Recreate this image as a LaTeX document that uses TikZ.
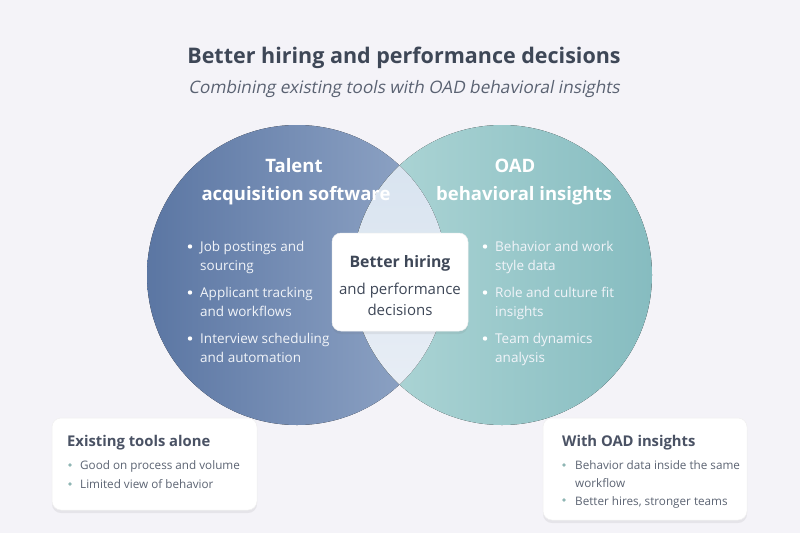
\documentclass[tikz,border=0pt]{standalone}
\usepackage{fontspec}
\setmainfont{Open Sans}
\newfontfamily\oblfont[FakeSlant=0.2]{Open Sans}
\usetikzlibrary{shadows}
\definecolor{bgc}{HTML}{F4F3F8}
\definecolor{lcA}{HTML}{5B76A3}
\definecolor{lcB}{HTML}{93A8C8}
\definecolor{rcA}{HTML}{B0D7D7}
\definecolor{rcB}{HTML}{86BCC0}
\definecolor{lensA}{HTML}{D6E2EF}
\definecolor{lensB}{HTML}{EAEFF6}
\definecolor{titc}{HTML}{3E4757}
\definecolor{subc}{HTML}{5A6272}
\definecolor{boxt}{HTML}{4A5264}
\definecolor{boxb}{HTML}{5C6473}
\definecolor{dotc}{HTML}{8FB6B4}
\definecolor{wtxt}{HTML}{F1F4F9}
\tikzset{
  cardbox/.style={fill=white, rounded corners=9pt, draw=black!6, line width=0.5pt,
    drop shadow={shadow xshift=0pt, shadow yshift=-3pt, opacity=0.10, fill=black!60}},
  ctitle/.style={anchor=base, text=white, font=\fontsize{18.5}{20}\selectfont\bfseries},
  cbul/.style={anchor=base west, inner sep=0pt, text=wtxt, font=\fontsize{13.5}{15}\selectfont},
  btitle/.style={anchor=base west, inner sep=0pt, text=boxt, font=\fontsize{14.8}{16}\selectfont\bfseries},
  bbul/.style={anchor=base west, inner sep=0pt, text=boxb, font=\fontsize{11.7}{13}\selectfont},
  mid/.style={anchor=base, inner sep=0pt, text=titc},
}
\begin{document}
\begin{tikzpicture}[x=1pt,y=-1pt]
\useasboundingbox (0,0) rectangle (800,533);
\fill[bgc] (0,0) rectangle (800,533);
% title
\node[anchor=base, inner sep=0pt, text=titc, font=\fontsize{21.5}{24}\selectfont\bfseries] (title) at (404,63) {Better hiring and performance decisions};
\node[anchor=base, inner sep=0pt, text=subc, font=\fontsize{17.2}{19}\selectfont\oblfont] (subtitle) at (404,93) {Combining existing tools with OAD behavioral insights};
% circles
\fill[left color=lcA, right color=lcB] (297,275) circle[radius=150pt];
\fill[left color=rcA, right color=rcB] (502,275) circle[radius=150pt];
\begin{scope}
  \clip (297,275) circle[radius=150pt];
  \fill[top color=lensA, bottom color=lensB] (502,275) circle[radius=150pt];
\end{scope}
% circle titles
\node[ctitle] (lt1) at (294,172) {Talent};
\node[ctitle] (lt2) at (296,200) {acquisition software};
\node[ctitle] (rt1) at (515,172) {OAD};
\node[ctitle] (rt2) at (524,200) {behavioral insights};
% left bullets
\foreach \y in {246.5,292.5,338.5} \fill[white] (190,\y) circle[radius=2.2pt];
\node[cbul] (l1a) at (200,251) {Job postings and};
\node[cbul] (l1b) at (200,270) {sourcing};
\node[cbul] (l2a) at (200,297) {Applicant tracking};
\node[cbul] (l2b) at (200,316) {and workflows};
\node[cbul] (l3a) at (200,343) {Interview scheduling};
\node[cbul] (l3b) at (200,362) {and automation};
% right bullets
\foreach \y in {246.5,292.5,338.5} \fill[white] (485,\y) circle[radius=2.2pt];
\node[cbul] (r1a) at (495,251) {Behavior and work};
\node[cbul] (r1b) at (495,270) {style data};
\node[cbul] (r2a) at (495,297) {Role and culture fit};
\node[cbul] (r2b) at (495,316) {insights};
\node[cbul] (r3a) at (495,343) {Team dynamics};
\node[cbul] (r3b) at (495,362) {analysis};
% center box
\path[cardbox] (332,233) rectangle (468,331);
\node[mid, font=\fontsize{15.8}{17}\selectfont\bfseries] (c1) at (400,267) {Better hiring};
\node[mid, font=\fontsize{15}{16}\selectfont] (c2) at (400,294) {and performance};
\node[mid, font=\fontsize{15}{16}\selectfont] (c3) at (400,315) {decisions};
% bottom-left card
\path[cardbox] (52,418) rectangle (257,510);
\node[btitle] (bl0) at (67,446) {Existing tools alone};
\foreach \y in {465,484} \fill[dotc] (70,\y) circle[radius=1.9pt];
\node[bbul] (bl1) at (80,469) {Good on process and volume};
\node[bbul] (bl2) at (80,488) {Limited view of behavior};
% bottom-right card
\path[cardbox] (543,418) rectangle (747,520);
\node[btitle] (br0) at (562,446) {With OAD insights};
\foreach \y in {465,500} \fill[dotc] (564,\y) circle[radius=1.9pt];
\node[bbul] (br1) at (575,469) {Behavior data inside the same};
\node[bbul] (br2) at (575,487) {workflow};
\node[bbul] (br3) at (575,505) {Better hires, stronger teams};
\end{tikzpicture}
\end{document}
